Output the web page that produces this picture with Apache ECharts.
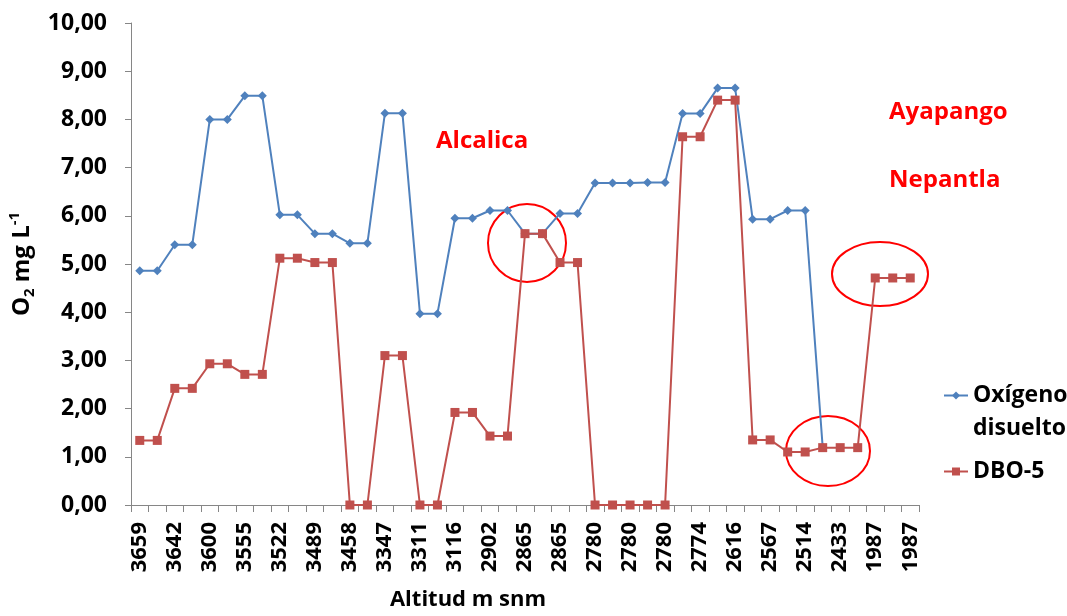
<!DOCTYPE html>
<html>
<head>
<meta charset="utf-8">
<script src="https://cdn.jsdelivr.net/npm/echarts@6/dist/echarts.min.js"></script>
<style>
html,body{margin:0;padding:0;background:#fff;}
#chart{width:1067px;height:616px;}
</style>
</head>
<body>
<div id="chart"></div>
<script>
// Category labels (altitude, m snm); every other one is shown on the axis
const altitudes = [
  '3659','3659','3642','3642','3600','3600','3555','3555','3522','3522',
  '3489','3489','3458','3458','3347','3347','3311','3311','3116','3116',
  '2902','2902','2865','2865','2865','2865','2780','2780','2780','2780',
  '2780','2780','2774','2774','2616','2616','2567','2567','2514','2514',
  '2433','2433','1987','1987','1987'
];
// Oxígeno disuelto (mg/L)
const oxigeno = [
  4.86,4.86,5.40,5.40,8.00,8.00,8.49,8.49,6.02,6.02,
  5.63,5.63,5.43,5.43,8.13,8.13,3.97,3.97,5.95,5.95,
  6.11,6.11,5.63,5.63,6.05,6.05,6.68,6.68,6.68,6.69,
  6.69,8.12,8.12,8.65,8.65,5.93,5.93,6.11,6.11,1.20,
  null,null,null,null,null
];
// DBO-5 (mg/L)
const dbo5 = [
  1.34,1.34,2.42,2.42,2.93,2.93,2.71,2.71,5.12,5.12,
  5.03,5.03,0,0,3.10,3.10,0,0,1.92,1.92,
  1.43,1.43,5.63,5.63,5.03,5.03,0,0,0,0,
  0,7.64,7.64,8.40,8.40,1.35,1.35,1.10,1.10,1.19,
  1.19,1.19,4.71,4.71,4.71
];
const yTicks = [0,1,2,3,4,5,6,7,8,9,10];
const seriesNames = ['Oxígeno disuelto','DBO-5'];

const FONT = '"Open Sans", "Liberation Sans", sans-serif';
const blue = '#4F81BD', red = '#C0504D';

const chart = echarts.init(document.getElementById('chart'), null, {renderer:'canvas'});
chart.setOption({
  animation:false,
  backgroundColor:'#fff',
  grid:{left:131, right:148, top:23, bottom:111, containLabel:false, outerBoundsMode:'none'},
  xAxis:{
    type:'category', data:altitudes, boundaryGap:true,
    name:'Altitud m snm', nameLocation:'middle', nameGap:84,
    nameTextStyle:{fontFamily:FONT, fontWeight:'bold', fontSize:22, color:'#000', padding:[0,114,0,0]},
    axisLine:{lineStyle:{color:'#868686', width:1}},
    axisTick:{show:true, interval:0, length:7, lineStyle:{color:'#868686'}},
    axisLabel:{interval:1, rotate:90, margin:17, fontFamily:FONT, fontWeight:'bold', fontSize:22, color:'#000'},
    splitLine:{show:false}
  },
  yAxis:{
    type:'value', min:yTicks[0], max:yTicks[yTicks.length-1], interval:1,
    name:'{o|O}{sub|2}{o| mg L}{sup|-1}', nameLocation:'middle', nameRotate:90, nameGap:83,
    nameTextStyle:{
      fontFamily:FONT, fontWeight:'bold', fontSize:24, color:'#000',
      rich:{
        o:{fontFamily:FONT, fontWeight:'bold', fontSize:24, color:'#000', lineHeight:30},
        sub:{fontFamily:FONT, fontWeight:'bold', fontSize:15, color:'#000', verticalAlign:'bottom', lineHeight:30, padding:[8,0,0,0]},
        sup:{fontFamily:FONT, fontWeight:'bold', fontSize:15, color:'#000', verticalAlign:'top', lineHeight:30, padding:[0,0,8,0]}
      }
    },
    axisLine:{show:true, lineStyle:{color:'#868686', width:1}},
    axisTick:{show:true, length:6, lineStyle:{color:'#868686'}},
    axisLabel:{margin:24, fontFamily:FONT, fontWeight:'bold', fontSize:23, color:'#000',
      formatter:v=>v.toFixed(2).replace('.', ',')},
    splitLine:{show:false}
  },
  legend:[
    {
      data:[seriesNames[0]], orient:'vertical', left:943, top:346, padding:0,
      itemWidth:24, itemHeight:10, itemGap:0,
      formatter:()=> ' \nOxígeno\ndisuelto',
      textStyle:{fontFamily:FONT, fontWeight:'bold', fontSize:23, color:'#000', lineHeight:33}
    },
    {
      data:[seriesNames[1]], orient:'vertical', left:943, top:455, padding:0,
      itemWidth:24, itemHeight:10, itemGap:0,
      textStyle:{fontFamily:FONT, fontWeight:'bold', fontSize:23, color:'#000', lineHeight:33}
    }
  ],
  series:[
    {
      name:seriesNames[0], type:'line', data:oxigeno, connectNulls:false,
      symbol:'diamond', symbolSize:9, showAllSymbol:true,
      itemStyle:{color:blue}, lineStyle:{color:blue, width:2}, z:2
    },
    {
      name:seriesNames[1], type:'line', data:dbo5,
      symbol:'rect', symbolSize:9, showAllSymbol:true,
      itemStyle:{color:red}, lineStyle:{color:red, width:2}, z:3
    }
  ],
  graphic:[
    {type:'text', left:436, top:129, style:{text:'Alcalica', fontFamily:FONT, fontWeight:'bold', fontSize:24, fill:'#FF0000'}},
    {type:'text', left:889, top:100, style:{text:'Ayapango', fontFamily:FONT, fontWeight:'bold', fontSize:24, fill:'#FF0000'}},
    {type:'text', left:889, top:168, style:{text:'Nepantla', fontFamily:FONT, fontWeight:'bold', fontSize:24, fill:'#FF0000'}},
    {type:'ellipse', shape:{cx:527, cy:243, rx:39, ry:39}, style:{fill:'none', stroke:'#FF0000', lineWidth:2}},
    {type:'ellipse', shape:{cx:880, cy:274, rx:48, ry:32}, style:{fill:'none', stroke:'#FF0000', lineWidth:2}},
    {type:'ellipse', shape:{cx:828, cy:451, rx:42, ry:35}, style:{fill:'none', stroke:'#FF0000', lineWidth:2}}
  ]
});
</script>
</body>
</html>
